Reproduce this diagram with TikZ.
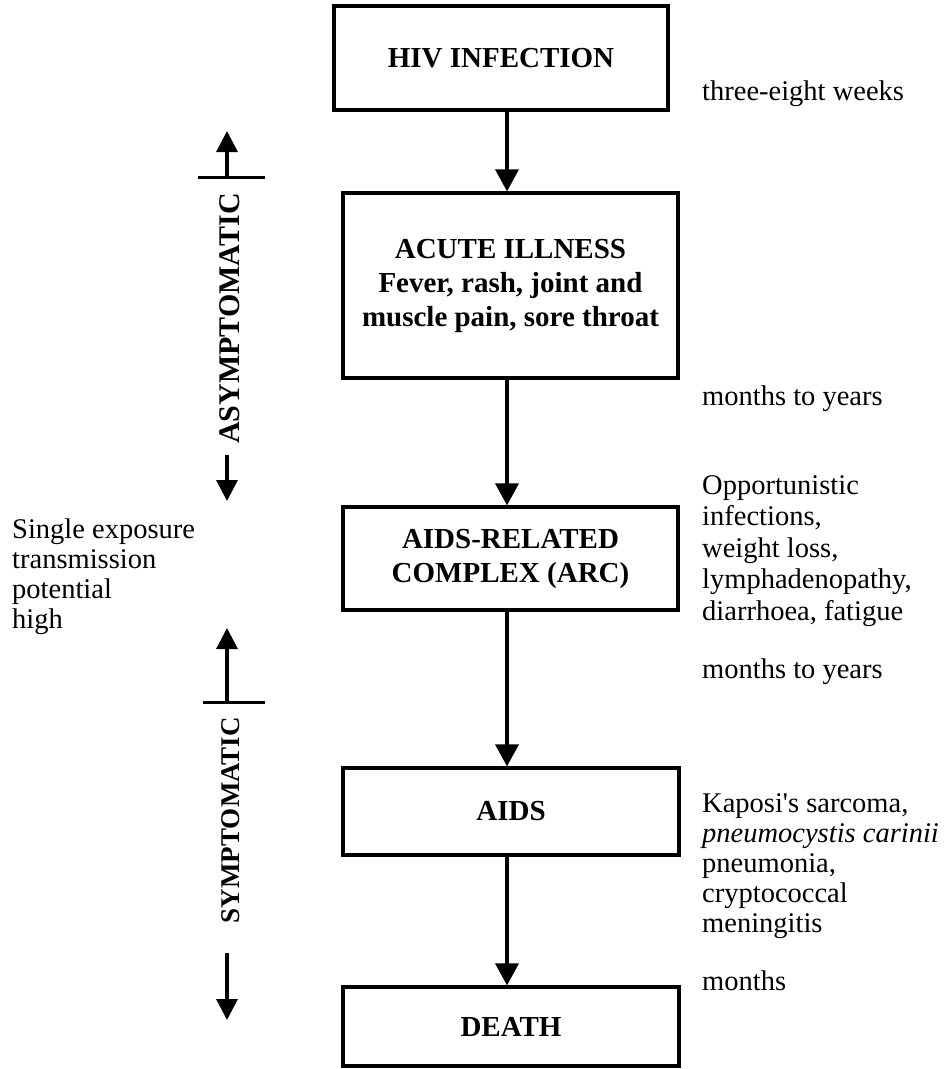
\documentclass[tikz,border=0pt]{standalone}
\usepackage{fontspec}
\setmainfont{Liberation Serif}
\usetikzlibrary{arrows.meta}
\begin{document}
\begin{tikzpicture}[x=1pt,y=-1pt,
  box/.style={draw, line width=3.2pt, inner sep=0pt, align=center,
    font=\bfseries\fontsize{29}{34}\selectfont},
  flow/.style={line width=3.4pt, -{Triangle[length=22pt,width=23pt]}},
  bar/.style={line width=3pt},
  bartip/.style={line width=3.2pt, -{Triangle[length=21pt,width=21pt]}},
  note/.style={inner sep=0pt, anchor=base west, align=left,
    font=\fontsize{28.5}{31.5}\selectfont},
  side/.style={rotate=90, inner sep=0pt}]
\useasboundingbox (0,0) rectangle (952,1069);

% main boxes
\node[box, minimum width=334pt, minimum height=104pt] (hiv) at (501,58) {HIV INFECTION};
\node[box, minimum width=335pt, minimum height=185pt] (acute) at (510.5,285.5)
  {ACUTE ILLNESS\\Fever, rash, joint and\\muscle pain, sore throat};
\node[box, minimum width=335pt, minimum height=103pt] (arc) at (510.5,558.5)
  {AIDS-RELATED\\COMPLEX (ARC)};
\node[box, minimum width=336pt, minimum height=87pt] (aids) at (511,811.5) {AIDS};
\node[box, minimum width=336pt, minimum height=79pt] (death) at (511,1026.5) {DEATH};

% flow arrows
\coordinate (ax) at (507,0);
\draw[flow] (hiv.south -| ax) -- (acute.north -| ax);
\draw[flow] (acute.south -| ax) -- (arc.north -| ax);
\draw[flow] (arc.south -| ax) -- (aids.north -| ax);
\draw[flow] (aids.south -| ax) -- (death.north -| ax);

% right-hand notes (base = baseline of last line)
\node[note] (t1) at (702,100) {three-eight weeks};
\node[note] (t2) at (702,405) {months to years};
\node[note] (t3) at (702,620) {Opportunistic\\infections,\\weight loss,\\lymphadenopathy,\\diarrhoea, fatigue};
\node[note] (t4) at (702,678) {months to years};
\node[note, font=\fontsize{28.5}{30}\selectfont] (t5) at (702,932)
  {Kaposi\textquotesingle s sarcoma,\\\textit{pneumocystis carinii}\\pneumonia,\\cryptococcal\\meningitis};
\node[note] (t6) at (702,990) {months};

% left note
\node[note, font=\fontsize{28.5}{30}\selectfont] (t7) at (12,628)
  {Single exposure\\transmission\\potential\\high};

% asymptomatic bar
\coordinate (a1tip) at (227,131);
\coordinate (a1j) at (227,177);
\coordinate (a1l) at (198,177);
\coordinate (a1r) at (265,177);
\coordinate (a1s) at (227,455);
\coordinate (a1e) at (227,501);
\node[side, font=\bfseries\fontsize{30}{34}\selectfont] (asym) at (230,318.5) {ASYMPTOMATIC};
\draw[bartip] (a1j) -- (a1tip);
\draw[bar] (a1l) -- (a1r);
\draw[bartip] (a1s) -- (a1e);

% symptomatic bar
\coordinate (s1tip) at (227,628);
\coordinate (s1j) at (227,702);
\coordinate (s1l) at (203,702);
\coordinate (s1r) at (265,702);
\coordinate (s1s) at (227,953);
\coordinate (s1e) at (227,1020);
\node[side, font=\bfseries\fontsize{27}{34}\selectfont] (sym) at (231,820) {SYMPTOMATIC};
\draw[bartip] (s1j) -- (s1tip);
\draw[bar] (s1l) -- (s1r);
\draw[bartip] (s1s) -- (s1e);
\end{tikzpicture}
\end{document}
